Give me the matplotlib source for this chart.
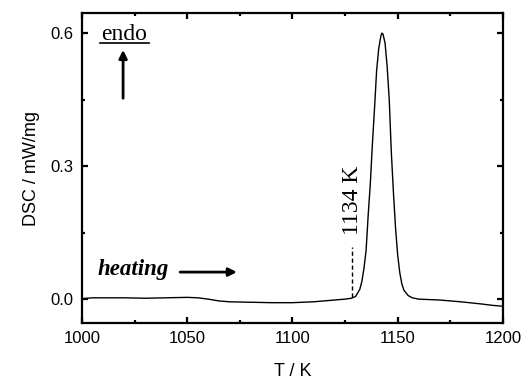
import matplotlib
matplotlib.use("Agg")
import matplotlib.pyplot as plt
from matplotlib.ticker import MultipleLocator

T = [1000, 1005, 1010, 1020, 1030, 1040, 1050, 1055, 1060, 1065, 1070, 1080, 1090,
     1100, 1110, 1115, 1120, 1125, 1128, 1130, 1132, 1133, 1134, 1135, 1136, 1137,
     1138, 1139, 1140, 1141, 1142, 1142.5, 1143, 1144, 1145, 1146, 1147, 1148, 1149,
     1150, 1151, 1152, 1153, 1155, 1157, 1160, 1170, 1180, 1190, 1195, 1200]
DSC = [0.001, 0.003, 0.003, 0.003, 0.002, 0.003, 0.004, 0.003, 0.0, -0.004, -0.006,
       -0.007, -0.008, -0.008, -0.006, -0.004, -0.002, 0.0, 0.002, 0.006, 0.022, 0.04,
       0.07, 0.11, 0.19, 0.26, 0.35, 0.43, 0.515, 0.565, 0.593, 0.60, 0.598, 0.578,
       0.525, 0.45, 0.33, 0.24, 0.16, 0.10, 0.06, 0.034, 0.02, 0.008, 0.003, 0.0,
       -0.002, -0.006, -0.011, -0.014, -0.016]

onset_T = 1128.3
onset_label = "1134 K"

plt.rcParams['font.family'] = ['Liberation Sans', 'DejaVu Sans']

fig = plt.figure(figsize=(5.26, 3.86), dpi=100)
ax = fig.add_axes([0.156, 0.163, 0.800, 0.803])

ax.plot(T, DSC, color='black', lw=1.0)
ax.plot([onset_T, onset_T], [0.004, 0.117], color='black', lw=1.0, ls=(0, (3, 2)))

ax.set_xlim(1000, 1200)
ax.set_ylim(-0.054, 0.645)
ax.xaxis.set_major_locator(MultipleLocator(50))
ax.xaxis.set_minor_locator(MultipleLocator(25))
ax.yaxis.set_major_locator(MultipleLocator(0.3))
ax.yaxis.set_minor_locator(MultipleLocator(0.15))
ax.set_xticks([1000, 1050, 1100, 1150, 1200])
ax.set_xticklabels(['1000', '1050', '1100', '1150', '1200'])
ax.set_yticks([0.0, 0.3, 0.6])
ax.set_yticklabels(['0.0', '0.3', '0.6'])

for s in ax.spines.values():
    s.set_linewidth(1.6)
ax.tick_params(which='both', direction='in', top=True, right=True, width=1.6)
ax.tick_params(which='major', length=4, labelsize=12, pad=6)
ax.tick_params(which='minor', length=2.5)

ax.set_xlabel('T / K', fontsize=13, labelpad=12)
ax.set_ylabel('DSC / mW/mg', fontsize=13, labelpad=8)

serif = ['Liberation Serif', 'DejaVu Serif']
ax.text(1020.2, 0.584, 'endo', family=serif, fontsize=17, ha='center', va='baseline')
ax.plot([1008.3, 1031.6], [0.578, 0.578], color='black', lw=1.2)
ax.annotate('', xy=(1019.5, 0.562), xytext=(1019.5, 0.453),
            arrowprops=dict(arrowstyle='-|>', lw=2.0, color='black', mutation_scale=12,
                            shrinkA=0, shrinkB=0))

ax.text(1007.6, 0.054, 'heating', family=serif, fontsize=16.5, style='italic',
        weight='bold', ha='left', va='baseline')
ax.annotate('', xy=(1073.6, 0.061), xytext=(1046.6, 0.061),
            arrowprops=dict(arrowstyle='-|>', lw=2.0, color='black', mutation_scale=12,
                            shrinkA=0, shrinkB=0))

ax.text(onset_T + 0.3, 0.223, onset_label, family=serif, fontsize=17, rotation=90,
        ha='center', va='center')

fig.savefig('out.png', dpi=100)
